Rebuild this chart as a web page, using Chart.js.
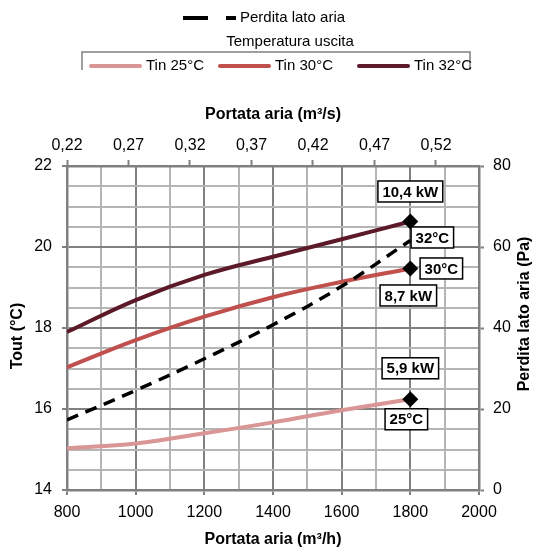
<!DOCTYPE html>
<html lang="it">
<head>
<meta charset="utf-8">
<title>Portata aria</title>
<script src="https://cdn.jsdelivr.net/npm/chart.js@4.4.1/dist/chart.umd.min.js"></script>
<style>
  html, body { margin: 0; padding: 0; background: #fff; }
  #chart { display: block; }
</style>
</head>
<body>
<canvas id="chart" width="536" height="551"></canvas>
<script>
/* global Chart */

// Data
const airflow = [800, 1000, 1200, 1400, 1600, 1800];          // m3/h
const tin25 = [15.03, 15.15, 15.40, 15.67, 15.97, 16.24];     // Tout (°C)
const tin30 = [17.03, 17.70, 18.28, 18.76, 19.14, 19.47];
const tin32 = [17.90, 18.69, 19.31, 19.76, 20.19, 20.63];
const pressureDrop = [17.3, 24.6, 32.4, 40.8, 50.3, 61.6];    // Pa

const seriesNames = ['Tin 25°C', 'Tin 30°C', 'Tin 32°C'];
const kwLabels = ['5,9 kW', '8,7 kW', '10,4 kW'];
const tempLabels = ['25°C', '30°C', '32°C'];

const xTickLabels = [800, 1000, 1200, 1400, 1600, 1800, 2000];
const yTickLabels = [14, 16, 18, 20, 22];
const y2TickLabels = [0, 20, 40, 60, 80];
const topTickLabels = [0.22, 0.27, 0.32, 0.37, 0.42, 0.47, 0.52];

const FONT = '"Liberation Sans", Arial, sans-serif';
const DARK = '#808080';
const LIGHT = '#b5b5b5';
const COLORS = ['#d99694', '#c0504d', '#5c1a28'];

const qs = (id) => document.getElementById(id);
const pts = (ys) => ys.map((y, i) => ({ x: airflow[i], y }));
const lastOnly = (ctx) => ctx.dataIndex === airflow.length - 1 ? 8 : 0;

Chart.defaults.font.family = FONT;
Chart.defaults.color = '#000';

// Legends and rotated axis titles
const legendBlock = {
  id: 'legendBlock',
  afterDraw(chart) {
    const { ctx } = chart;
    ctx.save();
    ctx.font = `15px ${FONT}`;
    ctx.fillStyle = '#000';
    ctx.textBaseline = 'middle';

    // dashed series entry
    ctx.strokeStyle = '#000';
    ctx.lineWidth = 4;
    ctx.setLineDash([25, 18]);
    ctx.beginPath();
    ctx.moveTo(183, 18);
    ctx.lineTo(236, 18);
    ctx.stroke();
    ctx.setLineDash([]);
    ctx.textAlign = 'left';
    ctx.fillText(chart.data.datasets[3].label, 240, 18);

    // legend group title + frame
    ctx.textAlign = 'center';
    ctx.fillText('Temperatura uscita', 290, 42);
    ctx.strokeStyle = DARK;
    ctx.lineWidth = 1.5;
    ctx.beginPath();
    ctx.moveTo(82, 70);
    ctx.lineTo(82, 52);
    ctx.lineTo(470, 52);
    ctx.lineTo(470, 70);
    ctx.stroke();

    const entryX = [89, 218, 357];
    ctx.textAlign = 'left';
    ctx.lineCap = 'round';
    chart.data.datasets.slice(0, 3).forEach((ds, i) => {
      ctx.strokeStyle = ds.borderColor;
      ctx.lineWidth = 4;
      ctx.beginPath();
      ctx.moveTo(entryX[i] + 2, 66);
      ctx.lineTo(entryX[i] + 51, 66);
      ctx.stroke();
      ctx.fillText(ds.label, entryX[i] + 57, 66);
    });

    // vertical axis titles (both read bottom to top)
    ctx.font = `bold 16px ${FONT}`;
    ctx.textAlign = 'center';
    [['Tout (°C)', 18, 336], ['Perdita lato aria (Pa)', 525, 314]].forEach(([t, x, y]) => {
      ctx.save();
      ctx.translate(x, y);
      ctx.rotate(-Math.PI / 2);
      ctx.fillText(t, 0, 0);
      ctx.restore();
    });
    ctx.restore();
  }
};

// Boxed labels next to the end markers
const boxOffsets = [
  { kw: [0, -31], temp: [-4, 20] },
  { kw: [-2, 27], temp: [31, 0] },
  { kw: [0, -30], temp: [22, 16] }
];

function drawBox(ctx, text, x, y) {
  const w = ctx.measureText(text).width + 9;
  const h = 21;
  ctx.fillStyle = '#fff';
  ctx.fillRect(x - w / 2, y - h / 2, w, h);
  ctx.strokeStyle = '#000';
  ctx.lineWidth = 1.5;
  ctx.strokeRect(x - w / 2, y - h / 2, w, h);
  ctx.fillStyle = '#000';
  ctx.fillText(text, x, y + 1);
}

const markerLabels = {
  id: 'markerLabels',
  afterDatasetsDraw(chart) {
    const { ctx } = chart;
    ctx.save();
    ctx.font = `bold 15px ${FONT}`;
    ctx.textAlign = 'center';
    ctx.textBaseline = 'middle';
    for (let i = 0; i < 3; i++) {
      const meta = chart.getDatasetMeta(i);
      const pt = meta.data[meta.data.length - 1];
      const o = boxOffsets[i];
      drawBox(ctx, kwLabels[i], pt.x + o.kw[0], pt.y + o.kw[1]);
      drawBox(ctx, tempLabels[i], pt.x + o.temp[0], pt.y + o.temp[1]);
    }
    ctx.restore();
  }
};

const tempSeries = [tin25, tin30, tin32].map((ys, i) => ({
  label: seriesNames[i],
  data: pts(ys),
  borderColor: COLORS[i],
  borderWidth: 4,
  yAxisID: 'y',
  pointStyle: 'rectRot',
  pointRadius: lastOnly,
  pointBackgroundColor: '#000',
  pointBorderColor: '#000',
  pointBorderWidth: 0,
  order: 2
}));

new Chart(qs('chart'), {
  type: 'line',
  data: {
    datasets: [
      ...tempSeries,
      {
        label: 'Perdita lato aria',
        data: pts(pressureDrop),
        borderColor: '#000',
        borderWidth: 3.5,
        borderDash: [12, 8],
        yAxisID: 'y2',
        pointRadius: 0,
        order: 1
      }
    ]
  },
  options: {
    responsive: false,
    animation: false,
    events: [],
    layout: { padding: 0 },
    elements: { line: { tension: 0.4, fill: false } },
    plugins: { legend: { display: false }, tooltip: { enabled: false } },
    scales: {
      x: {
        type: 'linear',
        position: 'bottom',
        min: 800,
        max: 2000,
        afterFit: (s) => { s.height = 61; },
        ticks: {
          stepSize: 100,
          autoSkip: false,
          maxRotation: 0,
          padding: 8,
          font: { size: 16 },
          callback: (v) => xTickLabels.includes(v) ? String(v) : ''
        },
        grid: {
          color: (c) => c.tick && c.tick.value % 200 === 0 ? DARK : LIGHT,
          lineWidth: 2,
          tickLength: 5,
          tickWidth: 2,
          tickColor: (c) => c.tick && c.tick.value % 200 === 0 ? DARK : 'rgba(0,0,0,0)'
        },
        border: { color: DARK, width: 2.5 },
        title: {
          display: true,
          text: 'Portata aria (m³/h)',
          font: { size: 16, weight: 'bold' },
          padding: { top: 0, bottom: 2 }
        }
      },
      x2: {
        type: 'linear',
        position: 'top',
        min: 0.22,
        max: 0.555,
        afterFit: (s) => { s.height = 166; },
        afterBuildTicks: (s) => { s.ticks = topTickLabels.map((v) => ({ value: v })); },
        ticks: {
          autoSkip: false,
          maxRotation: 0,
          padding: 5,
          font: { size: 16 },
          callback: (v) => v.toFixed(2).replace('.', ',')
        },
        grid: { drawOnChartArea: false, tickLength: 6, tickWidth: 2, tickColor: DARK },
        border: { color: DARK, width: 2.5 },
        title: {
          display: true,
          text: 'Portata aria (m³/s)',
          font: { size: 16, weight: 'bold' },
          padding: { top: 105, bottom: 0 }
        }
      },
      y: {
        position: 'left',
        min: 14,
        max: 22,
        afterFit: (s) => { s.width = 67; },
        ticks: {
          stepSize: 0.5,
          autoSkip: false,
          padding: 10,
          font: { size: 16 },
          callback: (v) => yTickLabels.includes(v) ? String(v) : ''
        },
        grid: {
          color: (c) => c.tick && c.tick.value % 2 === 0 ? DARK : LIGHT,
          lineWidth: 2,
          tickLength: 5,
          tickWidth: 2,
          tickColor: (c) => c.tick && c.tick.value % 2 === 0 ? DARK : 'rgba(0,0,0,0)'
        },
        border: { color: DARK, width: 2.5 }
      },
      y2: {
        position: 'right',
        min: 0,
        max: 80,
        afterFit: (s) => { s.width = 57; },
        ticks: {
          stepSize: 20,
          autoSkip: false,
          padding: 9,
          font: { size: 16 },
          callback: (v) => y2TickLabels.includes(v) ? String(v) : ''
        },
        grid: { drawOnChartArea: false, tickLength: 5, tickWidth: 2, tickColor: DARK },
        border: { color: DARK, width: 2.5 }
      }
    }
  },
  plugins: [legendBlock, markerLabels]
});
</script>
</body>
</html>
